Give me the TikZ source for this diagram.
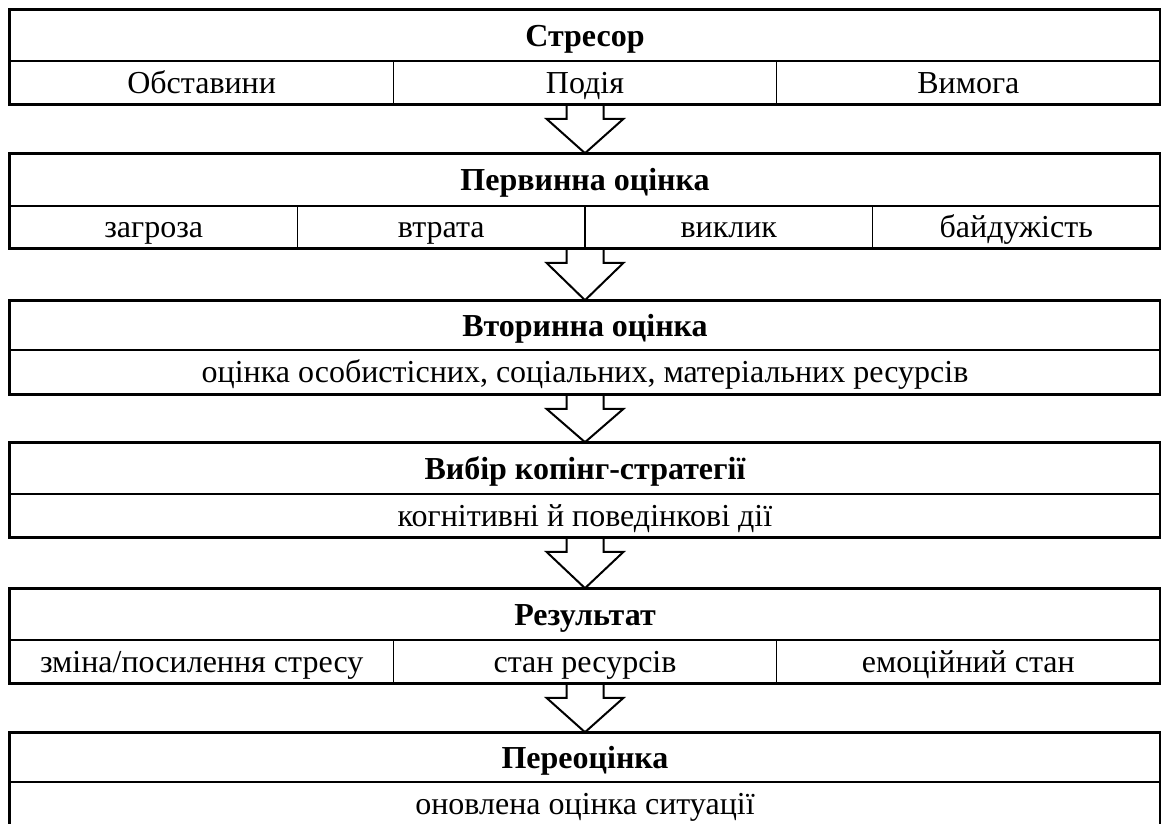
\documentclass[tikz,border=0pt]{standalone}
\usepackage{fontspec}
\setmainfont{Liberation Serif}
\usetikzlibrary{calc}
\begin{document}
\begin{tikzpicture}[x=1pt,y=-1pt,
  cell/.style={draw, line width=1.6pt, inner sep=0pt, font=\fontsize{32}{38}\selectfont,
    text height=22pt, text depth=1pt, minimum width=#1},
  cell/.default=1150pt,
  ttl/.style={cell=1150pt, font=\fontsize{32}{38}\selectfont\bfseries},
  outerbox/.style={draw, line width=2.4pt},
  bigarrow/.style={draw, line width=2pt, line join=miter}]
\useasboundingbox (0,0) rectangle (1161,823);
% Block 1
\node[ttl, minimum height=51pt] (t1) at (585,35.5) {Стресор};
\node[cell=383.33pt, minimum height=43pt] (c1a) at (201.67,82.5) {Обставини};
\node[cell=383.33pt, minimum height=43pt] (c1b) at (585,82.5) {Подія};
\node[cell=383.33pt, minimum height=43pt] (c1c) at (968.33,82.5) {Вимога};
\draw[outerbox] (t1.north west) rectangle (c1c.south east);
\coordinate (b1) at (t1 |- c1b.south);
% Block 2
\node[ttl, minimum height=52pt] (t2) at (585,180) {Первинна оцінка};
\node[cell=287.5pt, minimum height=42pt] (c2a) at (153.75,227) {загроза};
\node[cell=287.5pt, minimum height=42pt] (c2b) at (441.25,227) {втрата};
\node[cell=287.5pt, minimum height=42pt] (c2c) at (728.75,227) {виклик};
\node[cell=287.5pt, minimum height=42pt] (c2d) at (1016.25,227) {байдужість};
\draw[outerbox] (t2.north west) rectangle (c2d.south east);
\coordinate (b2) at (t2 |- c2d.south);
% Block 3
\node[ttl, minimum height=49pt] (t3) at (585,325.5) {Вторинна оцінка};
\node[cell, minimum height=44pt] (l3) at (585,372) {оцінка особистісних, соціальних, матеріальних ресурсів};
\draw[outerbox] (t3.north west) rectangle (l3.south east);
\coordinate (b3) at (l3.south);
% Block 4
\node[ttl, minimum height=51pt] (t4) at (585,468.5) {Вибір копінг-стратегії};
\node[cell, minimum height=43pt] (l4) at (585,515.5) {когнітивні й поведінкові дії};
\draw[outerbox] (t4.north west) rectangle (l4.south east);
\coordinate (b4) at (l4.south);
% Block 5
\node[ttl, minimum height=51pt] (t5) at (585,614.5) {Результат};
\node[cell=383.33pt, minimum height=43pt] (c5a) at (201.67,661.5) {зміна/посилення стресу};
\node[cell=383.33pt, minimum height=43pt] (c5b) at (585,661.5) {стан ресурсів};
\node[cell=383.33pt, minimum height=43pt] (c5c) at (968.33,661.5) {емоційний стан};
\draw[outerbox] (t5.north west) rectangle (c5c.south east);
\coordinate (b5) at (c5b.south);
% Block 6
\node[ttl, minimum height=49pt] (t6) at (585,757.5) {Переоцінка};
\node[cell, minimum height=44pt] (l6) at (585,804) {оновлена оцінка ситуації};
\draw[outerbox] (t6.north west) rectangle (l6.south east);
% Arrows
\foreach \a/\b in {1/2,2/3,3/4,4/5,5/6}{
  \draw[bigarrow] ($(b\a)+(-18.5,0)$) -- ++(0,14) -- ++(-20,0) -- (t\b.north)
     -- ($(b\a)+(38.5,14)$) -- ++(-20,0) -- ++(0,-14);
}
\end{tikzpicture}
\end{document}
